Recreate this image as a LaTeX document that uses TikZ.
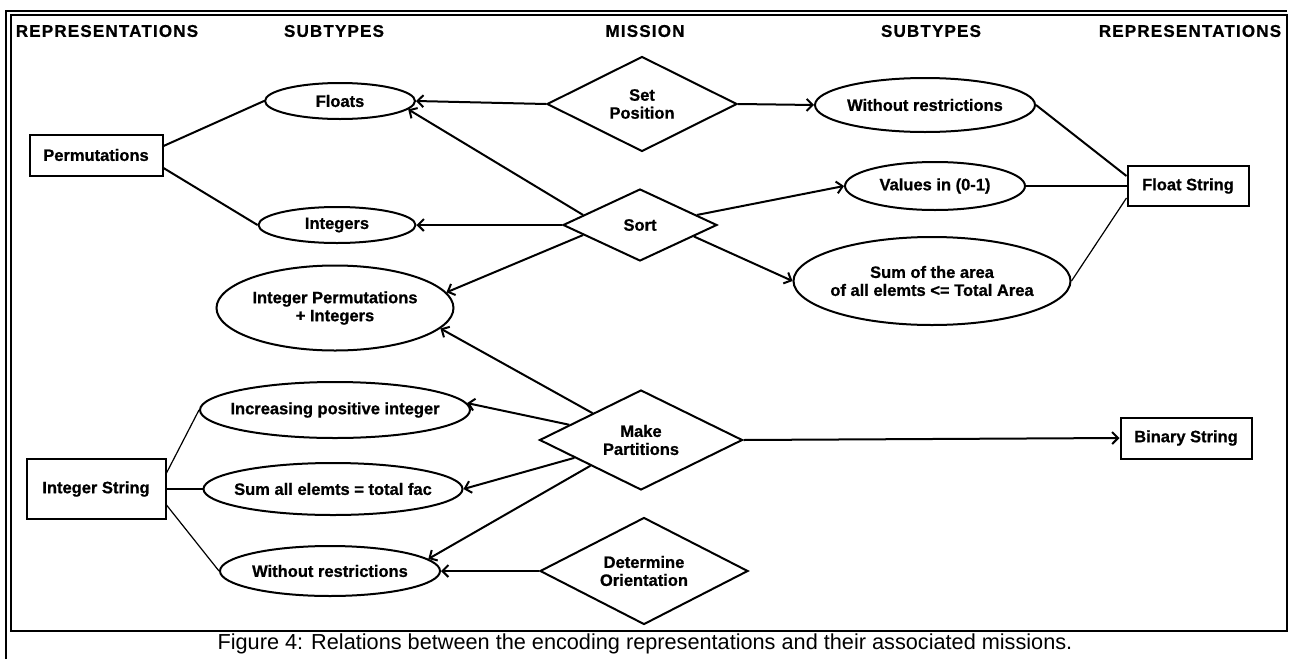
\documentclass[tikz,border=0pt]{standalone}
\usepackage{fontspec}
\setmainfont{Liberation Sans}[BoldFeatures={FakeBold=0.8}]
\usetikzlibrary{arrows.meta, shapes.geometric}

\begin{document}
\begin{tikzpicture}[x=1pt, y=-1pt, line width=2pt,
    every node/.style={font=\fontsize{16.5}{18}\selectfont\bfseries, align=center},
    head/.style={font=\fontsize{17}{18}\selectfont\bfseries\addfontfeatures{LetterSpace=7}},
    repbox/.style={draw, rectangle, inner sep=0pt},
    subtype/.style={draw, ellipse, inner xsep=-20pt, inner ysep=0pt},
    mission/.style={draw, diamond, aspect=2, inner sep=0pt},
    arr/.style={-{Straight Barb[length=6pt,width=12pt]}},
    thinline/.style={line width=1.2pt}]
    \useasboundingbox (0,0) rectangle (1291,659);

    % Frame
    \draw[line width=1.3pt] (6,659) -- (6,11) -- (1287,11);
    \draw[line width=1.3pt] (11,15) rectangle (1287,631);

    % Column titles
    \node[head] (hrepl) at (107,31) {REPRESENTATIONS};
    \node[head] (hsubl) at (334,31) {SUBTYPES};
    \node[head] (hmis) at (645,31) {MISSION};
    \node[head] (hsubr) at (931,31) {SUBTYPES};
    \node[head] (hrepr) at (1190,31) {REPRESENTATIONS};

    % Representations
    \node[repbox, minimum width=133, minimum height=41] (perm) at (96,155) {Permutations};
    \node[repbox, minimum width=139, minimum height=60] (intstr) at (96,489) {Integer String};
    \node[repbox, minimum width=121, minimum height=40] (fltstr) at (1188,186) {Float String};
    \node[repbox, minimum width=131, minimum height=41] (binstr) at (1186,438) {Binary String};

    % Subtypes
    \node[subtype, minimum width=150, minimum height=36] (floats) at (340,101) {Floats};
    \node[subtype, minimum width=157, minimum height=36] (ints) at (337,225) {Integers};
    \node[subtype, minimum width=237, minimum height=85] (intperm) at (335,308) {Integer Permutations\\+ Integers};
    \node[subtype, minimum width=270, minimum height=56] (incr) at (335,410) {Increasing positive integer};
    \node[subtype, minimum width=259, minimum height=52] (sumall) at (333,489) {Sum all elemts = total fac};
    \node[subtype, minimum width=220, minimum height=50] (wrlow) at (330,571) {Without restrictions};
    \node[subtype, minimum width=220, minimum height=54] (wrup) at (925,105) {Without restrictions};
    \node[subtype, minimum width=180, minimum height=48] (vals) at (935,186) {Values in (0-1)};
    \node[subtype, minimum width=277, minimum height=88] (sumarea) at (932,281) {Sum of the area\\of all elemts <= Total Area};

    % Missions
    \node[mission, minimum width=190, minimum height=95] (setpos) at (642,104) {Set\\Position};
    \node[mission, minimum width=154, minimum height=72] (sort) at (640,225) {Sort};
    \node[mission, minimum width=203, minimum height=100] (mkpart) at (641,440) {Make\\Partitions};
    \node[mission, minimum width=208, minimum height=107] (detor) at (644,571) {Determine\\Orientation};

    % Mission arrows
    \draw[arr] (setpos.west) -- (floats.east);
    \draw[arr] (setpos.east) -- (wrup.west);
    \draw[arr] (sort.170) -- (floats.-7);
    \draw[arr] (sort.west) -- (ints.east);
    \draw[arr] (sort.190) -- (intperm.8);
    \draw[arr] (sort.10) -- (vals.west);
    \draw[arr] (sort.-12) -- (sumarea.west);
    \draw[arr] (mkpart.151) -- (intperm.-11);
    \draw[arr] (mkpart.168) -- (incr.3);
    \draw[arr] (mkpart.195) -- (sumall.east);
    \draw[arr] (mkpart.207) -- (wrlow.7);
    \draw[arr] (mkpart.east) -- (binstr.west);
    \draw[arr] (detor.west) -- (wrlow.east);

    % Representation links
    \draw ([yshift=9pt]perm.east) -- (floats.west);
    \draw ([yshift=-13pt]perm.east) -- (ints.west);
    \draw[thinline] ([yshift=16pt]intstr.east) -- (incr.west);
    \draw (intstr.east) -- (sumall.west);
    \draw[thinline] ([yshift=-16pt]intstr.east) -- (wrlow.west);
    \draw (wrup.east) -- ([yshift=10pt]fltstr.west);
    \draw (vals.east) -- (fltstr.west);
    \draw[thinline] (sumarea.east) -- ([yshift=-12pt]fltstr.west);

    % Caption
    \node[font=\fontsize{21.7}{22}\selectfont] (caption) at (645,644) {Figure 4: Relations between the encoding representations and their associated missions.};
\end{tikzpicture}
\end{document}
